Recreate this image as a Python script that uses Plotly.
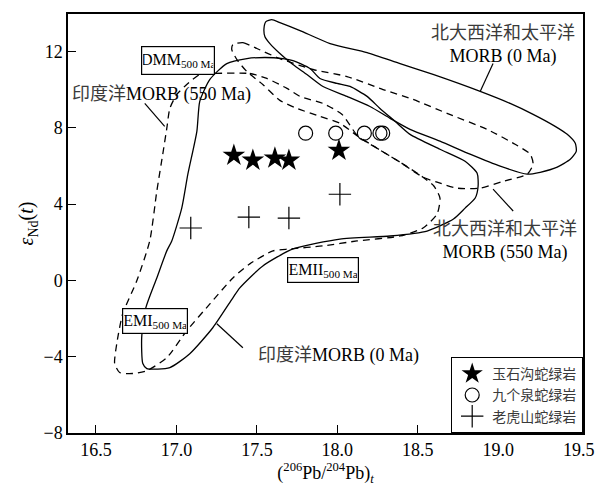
import plotly.graph_objects as go

# ---- MORB reference fields: (206Pb/204Pb)t, eNd(t) outlines ----
na_pac_0ma_pb = [17.556, 17.593, 17.643, 17.768, 17.955, 18.185, 18.390, 18.595, 18.888, 19.074,
                 19.217, 19.354, 19.429, 19.479, 19.485, 19.448, 19.367, 19.261, 19.180, 19.012,
                 18.825, 18.638, 18.452, 18.328, 18.203, 18.060, 17.911, 17.811, 17.724, 17.643,
                 17.581, 17.550, 17.544, 17.556]
na_pac_0ma_nd = [13.57, 13.67, 13.52, 13.10, 12.42, 11.95, 11.37, 10.80, 9.91, 9.28,
                 8.71, 8.08, 7.66, 7.19, 6.77, 6.35, 5.94, 5.67, 5.57, 5.99,
                 6.62, 7.30, 7.92, 8.50, 9.12, 9.65, 10.17, 10.80, 11.32, 11.90,
                 12.42, 12.78, 13.20, 13.57]

na_pac_550ma_pb = [17.351, 17.413, 17.500, 17.643, 17.849, 18.060, 18.284, 18.471, 18.682, 18.931,
                   19.105, 19.199, 19.217, 19.180, 19.031, 18.888, 18.744, 18.620, 18.533, 18.390,
                   18.247, 18.128, 18.016, 17.892, 17.749, 17.643, 17.537, 17.438, 17.376, 17.344,
                   17.351]
na_pac_550ma_nd = [12.37, 12.47, 12.16, 11.63, 11.06, 10.69, 10.01, 9.49, 8.76, 7.92,
                   7.14, 6.62, 6.09, 5.57, 5.20, 4.84, 4.84, 5.15, 5.41, 6.20,
                   6.93, 7.56, 8.24, 8.60, 9.02, 9.44, 10.27, 10.95, 11.58, 12.10,
                   12.37]

indian_0ma_pb = [17.662, 17.724, 17.830, 17.892, 17.998, 18.079, 18.185, 18.265, 18.359, 18.452,
                 18.638, 18.794, 18.869, 18.875, 18.857, 18.794, 18.722, 18.558, 18.328, 18.016,
                 17.724, 17.537, 17.394, 17.351, 17.226, 17.083, 16.959, 16.816, 16.791, 16.784,
                 16.810, 16.878, 16.940, 16.971, 17.033, 17.071, 17.127, 17.145, 17.208, 17.313,
                 17.438, 17.550, 17.662]
indian_0ma_nd = [11.63, 11.53, 11.11, 10.59, 10.33, 10.17, 9.65, 9.02, 8.34, 7.66,
                 6.88, 6.25, 5.62, 4.94, 4.32, 3.79, 3.22, 2.59, 2.33, 2.17,
                 1.65, 0.76, -0.39, -0.91, -2.48, -3.84, -4.57, -4.62, -4.36, -3.00,
                 -1.43, 0.13, 1.55, 2.07, 3.79, 5.57, 7.82, 9.39, 10.54, 11.37,
                 11.63, 11.69, 11.63]

indian_550ma_pb = [17.226, 17.456, 17.562, 17.687, 17.768, 17.911, 18.030, 18.128, 18.247, 18.390,
                   18.533, 18.600, 18.638, 18.620, 18.533, 18.390, 18.122, 17.911, 17.705, 17.600,
                   17.456, 17.351, 17.208, 17.064, 16.940, 16.816, 16.728, 16.647, 16.616, 16.629,
                   16.666, 16.753, 16.834, 16.878, 16.915, 16.940, 16.959, 17.002, 17.064, 17.145,
                   17.226]
indian_550ma_nd = [10.85, 10.85, 10.59, 10.07, 9.65, 9.28, 8.70, 7.56, 6.93, 6.20,
                   5.41, 4.95, 4.32, 3.48, 2.75, 2.33, 2.07, 1.81, 1.65, 1.55,
                   0.87, 0.13, -1.23, -2.64, -4.05, -4.73, -4.88, -4.83, -4.36, -3.32,
                   -1.75, -0.03, 2.07, 4.68, 6.62, 7.97, 9.02, 9.75, 10.27, 10.80,
                   10.85]

# ---- ophiolite samples ----
yushigou_pb = [17.357, 17.475, 17.612, 17.699, 18.010]
yushigou_nd = [6.56, 6.30, 6.41, 6.30, 6.82]

jiugequan_pb = [17.803, 17.990, 18.168, 18.265, 18.282]
jiugequan_nd = [7.72, 7.72, 7.72, 7.72, 7.72]

laohushan_pb = [17.089, 17.450, 17.699, 18.016]
laohushan_nd = [2.75, 3.32, 3.27, 4.52]

x_ticks = [16.5, 17.0, 17.5, 18.0, 18.5, 19.0, 19.5]
y_ticks = [-8, -4, 0, 4, 8, 12]

SERIF = "Liberation Serif"
CJK = "Noto Sans CJK SC"

def cjk(s):
    return "<span style=\"font-family:'Noto Sans CJK SC';color:#3a3a3a\">%s</span>" % s

fig = go.Figure()

outline = dict(color="black", width=1.3)
for pb, nd, dashed in [
    (na_pac_0ma_pb, na_pac_0ma_nd, False),
    (na_pac_550ma_pb, na_pac_550ma_nd, True),
    (indian_0ma_pb, indian_0ma_nd, False),
    (indian_550ma_pb, indian_550ma_nd, True),
]:
    fig.add_trace(go.Scatter(
        x=pb, y=nd, mode="lines", showlegend=False, hoverinfo="skip",
        line=dict(outline, dash="7px,5px" if dashed else "solid", shape="spline", smoothing=0.6),
    ))

fig.add_trace(go.Scatter(
    x=yushigou_pb, y=yushigou_nd, mode="markers", name="玉石沟蛇绿岩",
    marker=dict(symbol="star", size=17, color="black", line=dict(width=0)),
))
fig.add_trace(go.Scatter(
    x=jiugequan_pb, y=jiugequan_nd, mode="markers", name="九个泉蛇绿岩",
    marker=dict(symbol="circle-open", size=14, color="black", line=dict(width=1.2)),
))
fig.add_trace(go.Scatter(
    x=laohushan_pb, y=laohushan_nd, mode="markers", name="老虎山蛇绿岩",
    marker=dict(symbol="cross-thin-open", size=16, color="black", line=dict(width=1.2)),
))

# leader lines from field labels to their outlines
leaders = [
    ((18.968, 11.37), (18.888, 9.91)),
    ((19.093, 3.64), (18.968, 4.79)),
    ((17.251, -2.27), (17.413, -3.53)),
    ((16.803, 9.28), (16.927, 8.08)),
]
for (x0, y0), (x1, y1) in leaders:
    fig.add_shape(type="line", x0=x0, y0=y0, x1=x1, y1=y1, xref="x", yref="y",
                  line=dict(color="black", width=1.2))

labels = [
    (19.030, 12.45, cjk("北大西洋和太平洋") + "<br>MORB (0 Ma)"),
    (19.044, 2.20, cjk("北大西洋和太平洋") + "<br>MORB (550 Ma)"),
    (16.909, 9.86, cjk("印度洋") + "MORB (550 Ma)"),
    (18.005, -3.79, cjk("印度洋") + "MORB (0 Ma)"),
]
for x, y, text in labels:
    fig.add_annotation(x=x, y=y, text=text, showarrow=False,
                       font=dict(family=SERIF, size=18, color="black"))

boxes = [
    (17.008, 11.53, "DMM<sub>500 Ma</sub>", 70, 25),
    (16.865, -2.14, "EMI<sub>500 Ma</sub>", 62, 22),
    (17.911, 0.53, "EMII<sub>500 Ma</sub>", 68, 22),
]
for x, y, text, w, h in boxes:
    fig.add_annotation(x=x, y=y, text=text, showarrow=False, width=w, height=h,
                       bordercolor="black", borderwidth=1.2, borderpad=1, bgcolor="white",
                       font=dict(family=SERIF, size=16, color="black"))

axis_common = dict(
    showline=True, linecolor="black", linewidth=1.5, mirror=True,
    ticks="inside", ticklen=8, tickwidth=1.2, tickcolor="black",
    showgrid=False, zeroline=False,
    tickfont=dict(family=SERIF, size=18, color="black"),
)
fig.update_xaxes(axis_common, range=[16.326, 19.527], tickvals=x_ticks,
                 ticktext=["%.1f" % v for v in x_ticks],
                 title=dict(text="(<sup>206</sup>Pb/<sup>204</sup>Pb)<sub><i>t</i></sub>",
                            font=dict(family=SERIF, size=18, color="black"), standoff=4))
fig.update_yaxes(axis_common, range=[-8, 13.97], tickvals=y_ticks,
                 title=dict(text="<i>ε</i><sub>Nd</sub>(<i>t</i>)",
                            font=dict(family=SERIF, size=20, color="black"), standoff=4))

fig.update_layout(
    width=607, height=489,
    margin=dict(l=68, r=24, t=12, b=56),
    paper_bgcolor="white", plot_bgcolor="white",
    legend=dict(x=1, y=0, xanchor="right", yanchor="bottom",
                bordercolor="black", borderwidth=1.2, bgcolor="white",
                font=dict(family=CJK, size=14, color="#3a3a3a"),
                itemwidth=30, tracegroupgap=0),
)

fig.write_html("out.html")
